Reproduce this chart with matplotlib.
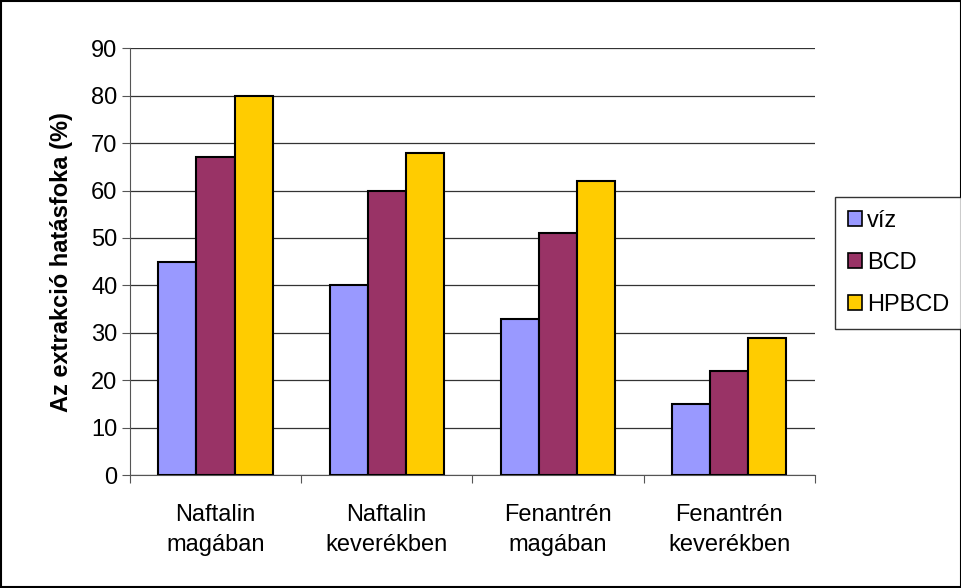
import matplotlib
matplotlib.use("Agg")
import matplotlib.pyplot as plt
from matplotlib.patches import Rectangle
import numpy as np

plt.rcParams["font.family"] = ["Liberation Sans", "DejaVu Sans"]

categories = ["Naftalin\nmagában", "Naftalin\nkeverékben", "Fenantrén\nmagában", "Fenantrén\nkeverékben"]
series_names = ["víz", "BCD", "HPBCD"]
viz = [45, 40, 33, 15]
bcd = [67, 60, 51, 22]
hpbcd = [80, 68, 62, 29]
colors = ["#9999FF", "#993366", "#FFCC00"]

fs = 17

fig = plt.figure(figsize=(9.62, 5.88), dpi=100)
ax = fig.add_axes([0.135, 0.192, 0.712, 0.726])

x = np.arange(len(categories))
w = 1 / 4.5
for i, (vals, name, c) in enumerate(zip([viz, bcd, hpbcd], series_names, colors)):
    ax.bar(x + (i - 1) * w, vals, w, color=c, edgecolor="black", linewidth=1.5,
           label=name, zorder=3)

ax.set_xlim(-0.5, 3.5)
ax.set_ylim(0, 90)
ax.set_yticks(range(0, 91, 10))
ax.yaxis.grid(True, color="#333333", linewidth=0.9, zorder=0)
ax.set_axisbelow(True)

ax.set_xticks(np.arange(-0.5, 3.6, 1))
ax.set_xticklabels([])
ax.set_xticks(x, minor=True)
ax.set_xticklabels(categories, minor=True, fontsize=fs, linespacing=1.45)
ax.tick_params(axis="x", which="minor", length=0, pad=21)
ax.tick_params(axis="x", which="major", length=6, color="#555555")
ax.tick_params(axis="y", length=6, color="#555555", labelsize=fs, pad=3)

for s in ["top", "right"]:
    ax.spines[s].set_visible(False)
ax.spines["left"].set_color("#555555")
ax.spines["bottom"].set_color("#555555")

ax.set_ylabel("Az extrakció hatásfoka (%)", fontsize=fs, fontweight="bold", labelpad=13)

leg = fig.legend(loc="upper left", bbox_to_anchor=(0.868, 0.665), fontsize=fs,
                 frameon=True, fancybox=False, edgecolor="black",
                 handlelength=0.6, handleheight=0.6, handletextpad=0.2,
                 labelspacing=0.85, borderpad=0.55, borderaxespad=0)
leg.get_frame().set_linewidth(1.0)
for h in leg.legend_handles:
    h.set_linewidth(1.2)

fig.patches.append(Rectangle((0.001, 0.001), 0.998, 0.997, transform=fig.transFigure,
                             fill=False, edgecolor="black", linewidth=1.5))

fig.savefig("out.png", dpi=100)
